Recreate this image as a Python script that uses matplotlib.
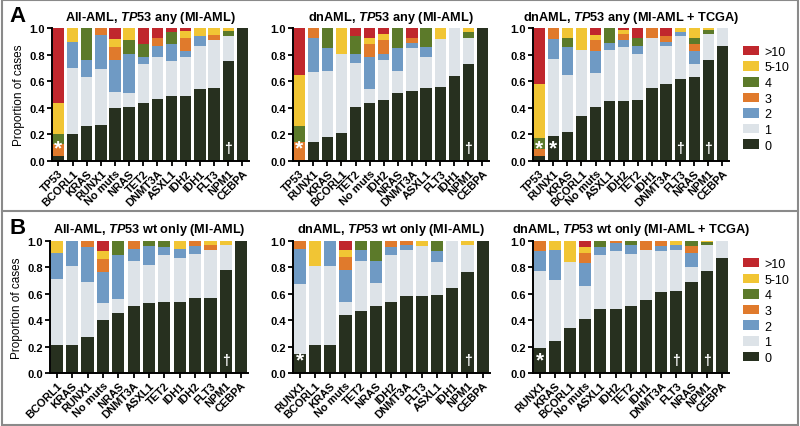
import matplotlib
matplotlib.use('Agg')
import matplotlib.pyplot as plt
from matplotlib.patches import Patch, Rectangle
from matplotlib.lines import Line2D

plt.rcParams['font.family'] = ['Liberation Sans', 'DejaVu Sans']
plt.rcParams['mathtext.fontset'] = 'custom'
plt.rcParams['mathtext.it'] = 'Liberation Sans:bold:italic'
plt.rcParams['mathtext.rm'] = 'Liberation Sans:bold'

# mutation-count categories, bottom to top
categories = ['0', '1', '2', '3', '4', '5-10', '>10']
colors = ['#27301f', '#dde3e8', '#6f9ac4', '#e07a2c', '#5c7a2a', '#f1c534', '#c0272d']

# panel A, left: All-AML, TP53 any (MI-AML)
a1_genes = ['TP53', 'BCORL1', 'KRAS', 'RUNX1', 'No muts', 'NRAS', 'TET2', 'DNMT3A',
            'ASXL1', 'IDH2', 'IDH1', 'FLT3', 'NPM1', 'CEBPA']
a1_vals = [
    [0.04, 0.00, 0.00, 0.09, 0.07, 0.24, 0.56],
    [0.20, 0.50, 0.20, 0.00, 0.00, 0.10, 0.00],
    [0.26, 0.37, 0.13, 0.00, 0.24, 0.00, 0.00],
    [0.27, 0.42, 0.26, 0.05, 0.00, 0.00, 0.00],
    [0.40, 0.12, 0.24, 0.10, 0.00, 0.06, 0.08],
    [0.41, 0.10, 0.30, 0.00, 0.10, 0.09, 0.00],
    [0.44, 0.29, 0.05, 0.00, 0.10, 0.00, 0.12],
    [0.47, 0.31, 0.09, 0.06, 0.00, 0.00, 0.07],
    [0.49, 0.26, 0.13, 0.00, 0.09, 0.00, 0.03],
    [0.49, 0.29, 0.05, 0.10, 0.00, 0.05, 0.02],
    [0.54, 0.33, 0.07, 0.00, 0.00, 0.06, 0.00],
    [0.55, 0.36, 0.00, 0.04, 0.00, 0.05, 0.00],
    [0.75, 0.19, 0.00, 0.00, 0.04, 0.02, 0.00],
    [1.00, 0.00, 0.00, 0.00, 0.00, 0.00, 0.00],
]
a1_star = ['TP53']
a1_dagger = ['NPM1']

# panel A, middle: dnAML, TP53 any (MI-AML)
a2_genes = ['TP53', 'RUNX1', 'KRAS', 'BCORL1', 'TET2', 'No muts', 'IDH2', 'NRAS',
            'DNMT3A', 'ASXL1', 'FLT3', 'IDH1', 'NPM1', 'CEBPA']
a2_vals = [
    [0.00, 0.00, 0.00, 0.14, 0.12, 0.39, 0.35],
    [0.14, 0.53, 0.26, 0.07, 0.00, 0.00, 0.00],
    [0.18, 0.50, 0.17, 0.00, 0.15, 0.00, 0.00],
    [0.21, 0.60, 0.00, 0.00, 0.00, 0.19, 0.00],
    [0.41, 0.33, 0.07, 0.00, 0.13, 0.00, 0.06],
    [0.44, 0.10, 0.24, 0.10, 0.00, 0.05, 0.07],
    [0.46, 0.30, 0.05, 0.10, 0.00, 0.05, 0.04],
    [0.51, 0.17, 0.17, 0.00, 0.15, 0.00, 0.00],
    [0.53, 0.32, 0.04, 0.04, 0.00, 0.00, 0.07],
    [0.55, 0.23, 0.08, 0.00, 0.14, 0.00, 0.00],
    [0.56, 0.36, 0.00, 0.00, 0.00, 0.08, 0.00],
    [0.64, 0.36, 0.00, 0.00, 0.00, 0.00, 0.00],
    [0.73, 0.20, 0.00, 0.00, 0.04, 0.03, 0.00],
    [1.00, 0.00, 0.00, 0.00, 0.00, 0.00, 0.00],
]
a2_star = ['TP53']
a2_dagger = ['NPM1']

# panel A, right: dnAML, TP53 any (MI-AML + TCGA)
a3_genes = ['TP53', 'RUNX1', 'KRAS', 'BCORL1', 'No muts', 'ASXL1', 'IDH2', 'TET2',
            'IDH1', 'DNMT3A', 'FLT3', 'NRAS', 'NPM1', 'CEBPA']
a3_vals = [
    [0.04, 0.00, 0.00, 0.05, 0.08, 0.41, 0.42],
    [0.19, 0.58, 0.15, 0.08, 0.00, 0.00, 0.00],
    [0.22, 0.43, 0.21, 0.00, 0.07, 0.07, 0.00],
    [0.34, 0.50, 0.00, 0.00, 0.00, 0.16, 0.00],
    [0.41, 0.25, 0.17, 0.08, 0.00, 0.04, 0.05],
    [0.45, 0.39, 0.05, 0.00, 0.11, 0.00, 0.00],
    [0.45, 0.41, 0.05, 0.05, 0.00, 0.03, 0.01],
    [0.46, 0.35, 0.06, 0.00, 0.06, 0.00, 0.07],
    [0.55, 0.38, 0.00, 0.07, 0.00, 0.00, 0.00],
    [0.58, 0.29, 0.03, 0.04, 0.00, 0.00, 0.06],
    [0.62, 0.32, 0.03, 0.00, 0.00, 0.03, 0.00],
    [0.63, 0.10, 0.10, 0.05, 0.05, 0.07, 0.00],
    [0.76, 0.20, 0.00, 0.00, 0.03, 0.01, 0.00],
    [0.87, 0.13, 0.00, 0.00, 0.00, 0.00, 0.00],
]
a3_star = ['TP53', 'RUNX1']
a3_dagger = ['FLT3', 'NPM1']

# panel B, left: All-AML, TP53 wt only (MI-AML)
b1_genes = ['BCORL1', 'KRAS', 'RUNX1', 'No muts', 'NRAS', 'DNMT3A', 'ASXL1', 'TET2',
            'IDH1', 'IDH2', 'FLT3', 'NPM1', 'CEBPA']
b1_vals = [
    [0.21, 0.50, 0.20, 0.00, 0.00, 0.09, 0.00],
    [0.21, 0.60, 0.19, 0.00, 0.00, 0.00, 0.00],
    [0.27, 0.42, 0.26, 0.05, 0.00, 0.00, 0.00],
    [0.40, 0.13, 0.23, 0.10, 0.00, 0.06, 0.08],
    [0.45, 0.11, 0.33, 0.00, 0.11, 0.00, 0.00],
    [0.51, 0.34, 0.09, 0.06, 0.00, 0.00, 0.00],
    [0.53, 0.29, 0.14, 0.00, 0.04, 0.00, 0.00],
    [0.54, 0.35, 0.06, 0.00, 0.05, 0.00, 0.00],
    [0.54, 0.33, 0.07, 0.00, 0.00, 0.06, 0.00],
    [0.57, 0.33, 0.06, 0.04, 0.00, 0.00, 0.00],
    [0.57, 0.36, 0.00, 0.04, 0.00, 0.03, 0.00],
    [0.78, 0.19, 0.00, 0.00, 0.00, 0.03, 0.00],
    [1.00, 0.00, 0.00, 0.00, 0.00, 0.00, 0.00],
]
b1_star = []
b1_dagger = ['NPM1']

# panel B, middle: dnAML, TP53 wt only (MI-AML)
b2_genes = ['RUNX1', 'BCORL1', 'KRAS', 'No muts', 'TET2', 'NRAS', 'IDH2', 'DNMT3A',
            'FLT3', 'ASXL1', 'IDH1', 'NPM1', 'CEBPA']
b2_vals = [
    [0.14, 0.53, 0.27, 0.06, 0.00, 0.00, 0.00],
    [0.21, 0.60, 0.00, 0.00, 0.00, 0.19, 0.00],
    [0.21, 0.60, 0.19, 0.00, 0.00, 0.00, 0.00],
    [0.44, 0.10, 0.24, 0.10, 0.00, 0.05, 0.07],
    [0.47, 0.38, 0.08, 0.00, 0.07, 0.00, 0.00],
    [0.51, 0.17, 0.17, 0.00, 0.15, 0.00, 0.00],
    [0.54, 0.35, 0.06, 0.05, 0.00, 0.00, 0.00],
    [0.58, 0.35, 0.04, 0.03, 0.00, 0.00, 0.00],
    [0.58, 0.38, 0.00, 0.00, 0.00, 0.04, 0.00],
    [0.59, 0.25, 0.08, 0.00, 0.08, 0.00, 0.00],
    [0.64, 0.36, 0.00, 0.00, 0.00, 0.00, 0.00],
    [0.76, 0.21, 0.00, 0.00, 0.00, 0.03, 0.00],
    [1.00, 0.00, 0.00, 0.00, 0.00, 0.00, 0.00],
]
b2_star = ['RUNX1']
b2_dagger = ['NPM1']

# panel B, right: dnAML, TP53 wt only (MI-AML + TCGA)
b3_genes = ['RUNX1', 'KRAS', 'BCORL1', 'No muts', 'ASXL1', 'IDH2', 'TET2', 'IDH1',
            'DNMT3A', 'FLT3', 'NRAS', 'NPM1', 'CEBPA']
b3_vals = [
    [0.19, 0.58, 0.15, 0.08, 0.00, 0.00, 0.00],
    [0.24, 0.46, 0.23, 0.00, 0.00, 0.07, 0.00],
    [0.34, 0.50, 0.00, 0.00, 0.00, 0.16, 0.00],
    [0.41, 0.25, 0.17, 0.08, 0.00, 0.04, 0.05],
    [0.48, 0.41, 0.06, 0.00, 0.05, 0.00, 0.00],
    [0.48, 0.44, 0.06, 0.02, 0.00, 0.00, 0.00],
    [0.51, 0.39, 0.07, 0.00, 0.03, 0.00, 0.00],
    [0.55, 0.38, 0.00, 0.07, 0.00, 0.00, 0.00],
    [0.61, 0.31, 0.04, 0.04, 0.00, 0.00, 0.00],
    [0.62, 0.31, 0.04, 0.00, 0.00, 0.03, 0.00],
    [0.69, 0.11, 0.11, 0.05, 0.04, 0.00, 0.00],
    [0.77, 0.20, 0.00, 0.00, 0.02, 0.01, 0.00],
    [0.87, 0.13, 0.00, 0.00, 0.00, 0.00, 0.00],
]
b3_star = ['RUNX1']
b3_dagger = ['FLT3', 'NPM1']


def draw_panel(ax, genes, vals, title, stars, daggers, ylabel=False, legend=False):
    n = len(genes)
    x = list(range(n))
    bottoms = [0.0] * n
    for k in range(len(categories)):
        h = [row[k] for row in vals]
        ax.bar(x, h, bottom=bottoms, width=0.8, color=colors[k], linewidth=0)
        bottoms = [b + v for b, v in zip(bottoms, h)]
    for g in stars:
        ax.text(genes.index(g), 0.1, '*', color='white', fontsize=15,
                fontweight='bold', ha='center', va='center')
    for g in daggers:
        ax.text(genes.index(g), 0.1, '\u2020', color='white', fontsize=10,
                fontweight='bold', ha='center', va='center')
    ax.set_xlim(-0.45, n - 0.55)
    ax.set_ylim(0, 1.0)
    ax.set_yticks([0, 0.2, 0.4, 0.6, 0.8, 1.0])
    ax.set_yticklabels(['0.0', '0.2', '0.4', '0.6', '0.8', '1.0'],
                       fontsize=8, fontweight='bold')
    ax.set_xticks(x)
    ax.set_xticklabels(genes, rotation=45, ha='right', rotation_mode='anchor',
                       fontsize=8, fontweight='bold')
    ax.tick_params(axis='both', direction='out', length=3.5, width=1.3, pad=1.5)
    for s in ['top', 'right']:
        ax.spines[s].set_visible(False)
    for s in ['left', 'bottom']:
        ax.spines[s].set_linewidth(1.4)
    ax.set_title(title, fontsize=9.2, fontweight='bold', pad=6)
    if ylabel:
        ax.set_ylabel('Proportion of cases', fontsize=8.5, labelpad=3)
    if legend:
        handles = [Patch(facecolor=colors[k], edgecolor='none', label=categories[k])
                   for k in range(len(categories) - 1, -1, -1)]
        ax.legend(handles=handles, loc='center left', bbox_to_anchor=(1.07, 0.47),
                  frameon=False, fontsize=9, handlelength=1.3, handleheight=0.8,
                  handletextpad=0.45, labelspacing=0.28, borderpad=0, borderaxespad=0)


fig = plt.figure(figsize=(8.0, 4.27), dpi=100)

ax_a1 = fig.add_axes([0.065, 0.6206, 0.246, 0.3108])
ax_a2 = fig.add_axes([0.366, 0.6206, 0.245, 0.3108])
ax_a3 = fig.add_axes([0.666, 0.6206, 0.245, 0.3108])
ax_b1 = fig.add_axes([0.0625, 0.1241, 0.2475, 0.3099])
ax_b2 = fig.add_axes([0.366, 0.1241, 0.246, 0.3099])
ax_b3 = fig.add_axes([0.666, 0.1241, 0.245, 0.3099])

draw_panel(ax_a1, a1_genes, a1_vals, r'All-AML, $\mathit{TP53}$ any (MI-AML)',
           a1_star, a1_dagger, ylabel=True)
draw_panel(ax_a2, a2_genes, a2_vals, r'dnAML, $\mathit{TP53}$ any (MI-AML)',
           a2_star, a2_dagger)
draw_panel(ax_a3, a3_genes, a3_vals, r'dnAML, $\mathit{TP53}$ any (MI-AML + TCGA)',
           a3_star, a3_dagger, legend=True)
draw_panel(ax_b1, b1_genes, b1_vals, r'All-AML, $\mathit{TP53}$ wt only (MI-AML)',
           b1_star, b1_dagger, ylabel=True)
draw_panel(ax_b2, b2_genes, b2_vals, r'dnAML, $\mathit{TP53}$ wt only (MI-AML)',
           b2_star, b2_dagger)
draw_panel(ax_b3, b3_genes, b3_vals, r'dnAML, $\mathit{TP53}$ wt only (MI-AML + TCGA)',
           b3_star, b3_dagger, legend=True)

fig.text(0.012, 0.962, 'A', fontsize=16, fontweight='bold', va='center', ha='left')
fig.text(0.012, 0.466, 'B', fontsize=16, fontweight='bold', va='center', ha='left')

# grey frame around the figure and separator between the rows
fig.patches.append(Rectangle((0.002, 0.003), 0.995, 0.994, transform=fig.transFigure,
                             fill=False, edgecolor='#8a8a8a', linewidth=1.5))
fig.lines.append(Line2D([0.002, 0.997], [0.5035, 0.5035], transform=fig.transFigure,
                        color='#8a8a8a', linewidth=1.5))

fig.savefig('out.png', dpi=100)
